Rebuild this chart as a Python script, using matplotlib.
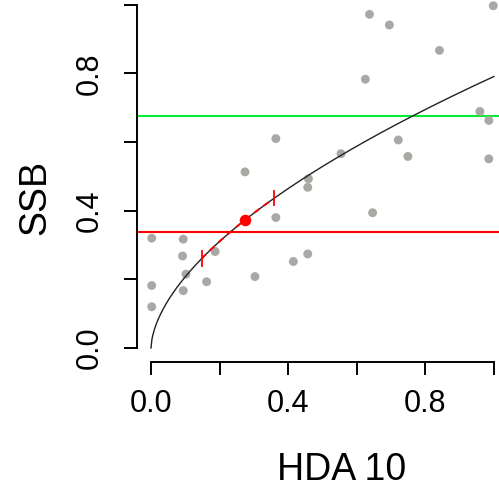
import numpy as np
import matplotlib
matplotlib.use("Agg")
import matplotlib.pyplot as plt

plt.rcParams['font.family'] = ['Liberation Sans', 'DejaVu Sans']

# observed points (HDA 10 vs SSB)
hda = [0.637, 0.695, 0.998, 0.841, 0.625, 0.959, 0.985, 0.364, 0.721, 0.554,
       0.749, 0.985, 0.274, 0.459, 0.457, 0.364, 0.646, 0.002, 0.094, 0.092,
       0.187, 0.415, 0.457, 0.102, 0.303, 0.162, 0.002, 0.094, 0.002]
ssb = [0.972, 0.941, 0.997, 0.867, 0.783, 0.689, 0.663, 0.610, 0.606, 0.566,
       0.558, 0.551, 0.513, 0.493, 0.468, 0.380, 0.394, 0.320, 0.317, 0.268,
       0.281, 0.252, 0.274, 0.215, 0.208, 0.193, 0.182, 0.167, 0.120]

# fitted power curve  ssb = a * hda^b
fit_a = 0.791
fit_b = 0.581

# reference levels
red_level = 0.338
green_level = 0.676

# current point and interval
cur_x = 0.274
ci_lo = 0.148
ci_hi = 0.359

W, H = 499, 491
fig = plt.figure(figsize=(W / 100, H / 100), dpi=100)
ax = fig.add_axes([137.3 / W, 129.3 / H, 370.4 / W, 370.7 / H])
ax.set_xlim(-0.04, 1.04)
ax.set_ylim(-0.04, 1.04)

grey = '#aaa8a4'
ax.scatter(hda, ssb, s=41, color=grey, edgecolors='none', zorder=2)

xs = np.linspace(0, 1, 400)
ax.plot(xs, fit_a * xs ** fit_b, color='#222222', lw=1.0, zorder=3)

ax.axhline(red_level, color='#ff0000', lw=1.5, zorder=1)
ax.axhline(green_level, color='#00ee33', lw=1.5, zorder=1)

seg = np.linspace(ci_lo, ci_hi, 50)
ax.plot(seg, fit_a * seg ** fit_b, color='#ff0000', lw=1.4, ls=(0, (3, 3)), zorder=4)
for cx in (ci_lo, ci_hi):
    cy = fit_a * cx ** fit_b
    ax.plot([cx, cx], [cy - 0.021, cy + 0.021], color='#ff0000', lw=1.3, zorder=4)
ax.plot([cur_x], [fit_a * cur_x ** fit_b], 'o', color='#ff0000', ms=8.3, mec='none', zorder=5)

for s in ('top', 'right'):
    ax.spines[s].set_visible(False)
ax.spines['left'].set_bounds(0, 1)
ax.spines['bottom'].set_bounds(0, 1)
for s in ('left', 'bottom'):
    ax.spines[s].set_linewidth(1.4)

ticks = [0, 0.2, 0.4, 0.6, 0.8, 1.0]
ax.set_xticks(ticks)
ax.set_xticklabels(['0.0', '', '0.4', '', '0.8', ''])
ax.set_yticks(ticks)
ax.set_yticklabels(['0.0', '', '0.4', '', '0.8', ''], rotation=90, va='center')
ax.tick_params(axis='both', length=9.4, width=1.4, labelsize=22)
ax.tick_params(axis='x', pad=10)
ax.tick_params(axis='y', pad=14)

fig.text(342 / W, 1 - 480 / H, 'HDA 10', fontsize=27, ha='center', va='baseline',
         rotation_mode='anchor')
fig.text(45 / W, 1 - 197 / H, 'SSB', fontsize=27, ha='center', va='baseline',
         rotation=90, rotation_mode='anchor')

fig.savefig('out.png', dpi=100)
